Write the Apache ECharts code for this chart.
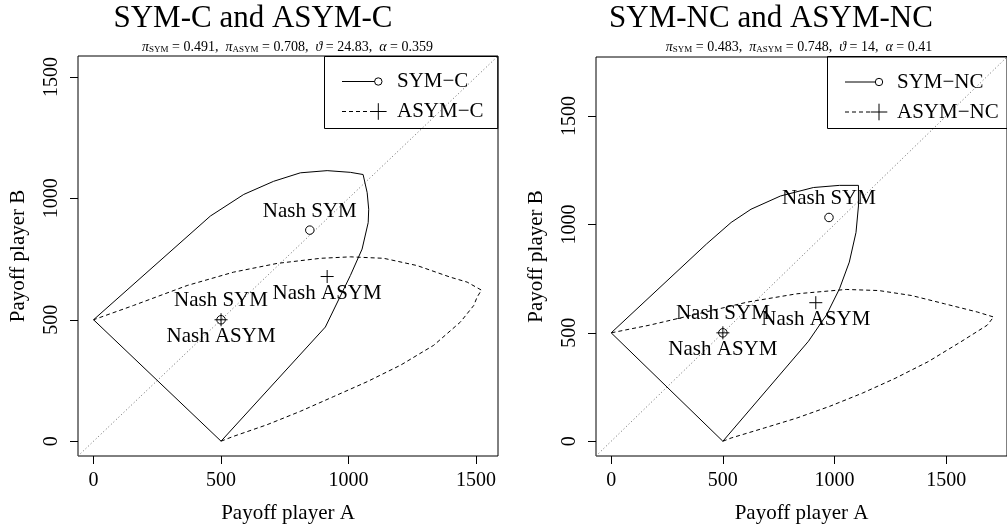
<!DOCTYPE html>
<html>
<head>
<meta charset="utf-8">
<script src="https://cdn.jsdelivr.net/npm/echarts@6/dist/echarts.min.js"></script>
<style>
html,body{margin:0;padding:0;background:#fff;}
#chart{width:1007px;height:529px;}
</style>
</head>
<body>
<div id="chart"></div>
<script>
// ---------- data ----------
const tickValues = [0, 500, 1000, 1500];
const limC = [-61, 1586];
const limNC = [-68, 1772];

const titles = ['SYM-C and ASYM-C', 'SYM-NC and ASYM-NC'];
const paramsC = ['0.491', '0.708', '24.83', '0.359'];
const paramsNC = ['0.483', '0.748', '14', '0.41'];
const legendC = ['SYM\u2212C', 'ASYM\u2212C'];
const legendNC = ['SYM\u2212NC', 'ASYM\u2212NC'];
const nashLabels = ['Nash SYM', 'Nash ASYM'];
const axisNames = ['Payoff player A', 'Payoff player B'];

const symC = [[0,500],[500,0],[909,470],[1007,682],[1053,791],[1077,900],[1079,955],[1073,1023],[1057,1098],
  [1007,1107],[916,1114],[811,1105],[706,1070],[589,1016],[458,927],[0,500]];
const asymC = [[500,0],[549,20],[681,68],[811,123],[942,184],[1073,245],[1204,313],[1334,395],[1439,491],[1491,559],
  [1504,593],[1521,622],[1465,655],[1400,675],[1269,723],[1138,753],[1007,759],[890,753],[720,732],[549,696],
  [367,641],[157,559],[0,500]];
const nashSymC = [[500,500],[848,869]];
const nashAsymC = [[500,500],[916,678]];

const symNC = [[0,500],[500,0],[883,461],[963,581],[1022,703],[1066,826],[1096,963],[1107,1085],[1107,1180],
  [1022,1180],[905,1170],[758,1131],[626,1070],[537,1009],[427,910],[0,500]];
const asymNC = [[500,0],[537,15],[685,61],[831,107],[978,161],[1125,222],[1271,290],[1419,367],[1566,459],[1683,535],
  [1712,573],[1639,596],[1492,634],[1345,672],[1198,695],[1052,700],[831,680],[611,642],[390,588],[170,535],[0,500]];
const nashSymNC = [[500,500],[975,1032]];
const nashAsymNC = [[500,500],[916,639]];

// ---------- styling ----------
const FF = '"Liberation Serif", "DejaVu Serif", serif';
const chart = echarts.init(document.getElementById('chart'));

function xAxisDef(idx, lim) {
  return {
    type: 'value', gridIndex: idx, min: lim[0], max: lim[1],
    name: axisNames[0], nameLocation: 'middle', nameGap: 47,
    nameTextStyle: {fontFamily: FF, fontSize: 21, color: '#000'},
    axisLine: {show: false, onZero: false},
    axisTick: {show: true, inside: false, length: 8, customValues: tickValues, lineStyle: {color: '#000', width: 1}},
    axisLabel: {show: true, customValues: tickValues, margin: 15, fontFamily: FF, fontSize: 20, color: '#000',
      formatter: function (v) { return String(v); }},
    splitLine: {show: false}
  };
}
function yAxisDef(idx, lim) {
  return {
    type: 'value', gridIndex: idx, min: lim[0], max: lim[1],
    name: axisNames[1], nameLocation: 'middle', nameGap: 49, nameRotate: 90,
    nameTextStyle: {fontFamily: FF, fontSize: 21, color: '#000'},
    axisLine: {show: false, onZero: false},
    axisTick: {show: true, inside: false, length: 8, customValues: tickValues, lineStyle: {color: '#000', width: 1}},
    axisLabel: {show: true, customValues: tickValues, rotate: 90, margin: 16, fontFamily: FF, fontSize: 20, color: '#000',
      formatter: function (v) { return String(v); }},
    splitLine: {show: false}
  };
}
function lineSeries(idx, data, type) {
  return {
    type: 'line', xAxisIndex: idx, yAxisIndex: idx, data: data, symbol: 'none', smooth: false,
    lineStyle: {color: '#000', width: 1, type: type}, clip: true, z: 3
  };
}
function diagSeries(idx, lim) {
  return {
    type: 'line', xAxisIndex: idx, yAxisIndex: idx, data: [[lim[0], lim[0]], [lim[1], lim[1]]], symbol: 'none',
    lineStyle: {color: '#666', width: 1, type: [1, 2.5]}, clip: true, z: 2
  };
}
function nashSeries(idx, data, kind) {
  const isSym = kind === 0;
  return {
    type: 'scatter', xAxisIndex: idx, yAxisIndex: idx, data: data,
    symbol: isSym ? 'circle' : 'path://M0,6L12,6M6,0L6,12',
    symbolSize: isSym ? 8.5 : 13,
    itemStyle: {color: 'rgba(255,255,255,0)', borderColor: '#000', borderWidth: 1, opacity: 1},
    label: {show: true, formatter: nashLabels[kind], position: 'inside', offset: [0, isSym ? -19 : 17],
      fontFamily: FF, fontSize: 21, color: '#000', opacity: 1, textBorderWidth: 0, textBorderColor: 'transparent'},
    emphasis: {disabled: true},
    z: 4
  };
}

function subtitleText(p) {
  return '{g|\u03c0}{s|SYM}{n| = ' + p[0] + ',  }{g|\u03c0}{s|ASYM}{n| = ' + p[1] +
    ',  }{g|\u03d1}{n| = ' + p[2] + ',  }{g|\u03b1}{n| = ' + p[3] + '}';
}
const subRich = {
  g: {fontFamily: FF, fontSize: 14, fontStyle: 'italic', lineHeight: 14, fill: '#000'},
  n: {fontFamily: FF, fontSize: 14, lineHeight: 14, fill: '#000'},
  s: {fontFamily: FF, fontSize: 9, lineHeight: 9, verticalAlign: 'bottom', fill: '#000'}
};

function legendGraphics(x0, w, xLine0, xMark, xText, y1, y2, labels) {
  return [
    {type: 'rect', shape: {x: x0, y: 56.5, width: w, height: 72}, style: {fill: 'none', stroke: '#000', lineWidth: 1}, z: 10},
    {type: 'line', shape: {x1: xLine0, y1: y1, x2: xMark - 3.7, y2: y1}, style: {stroke: '#000', lineWidth: 1}, z: 10},
    {type: 'circle', shape: {cx: xMark, cy: y1, r: 3.7}, style: {fill: 'none', stroke: '#000', lineWidth: 1}, z: 10},
    {type: 'line', shape: {x1: xLine0, y1: y2, x2: xMark - 8, y2: y2}, style: {stroke: '#000', lineWidth: 1, lineDash: [4, 3]}, z: 10},
    {type: 'line', shape: {x1: xMark - 8.3, y1: y2, x2: xMark + 8.3, y2: y2}, style: {stroke: '#000', lineWidth: 1}, z: 10},
    {type: 'line', shape: {x1: xMark, y1: y2 - 8.3, x2: xMark, y2: y2 + 8.3}, style: {stroke: '#000', lineWidth: 1}, z: 10},
    {type: 'text', style: {text: labels[0], x: xText, y: y1, font: '21px ' + FF, fill: '#000', textAlign: 'left', textVerticalAlign: 'middle'}, z: 10},
    {type: 'text', style: {text: labels[1], x: xText, y: y2, font: '21px ' + FF, fill: '#000', textAlign: 'left', textVerticalAlign: 'middle'}, z: 10}
  ];
}

const option = {
  animation: false,
  backgroundColor: '#fff',
  grid: [
    {left: 78, top: 56, width: 420, height: 402, show: true, borderColor: '#000', borderWidth: 1, backgroundColor: 'transparent', containLabel: false},
    {left: 596, top: 57, width: 417.5, height: 401, show: true, borderColor: '#000', borderWidth: 1, backgroundColor: 'transparent', containLabel: false}
  ],
  xAxis: [xAxisDef(0, limC), xAxisDef(1, limNC)],
  yAxis: [yAxisDef(0, limC), yAxisDef(1, limNC)],
  series: [
    diagSeries(0, limC),
    lineSeries(0, symC, 'solid'),
    lineSeries(0, asymC, [4, 3]),
    nashSeries(0, nashSymC, 0),
    nashSeries(0, nashAsymC, 1),
    diagSeries(1, limNC),
    lineSeries(1, symNC, 'solid'),
    lineSeries(1, asymNC, [4, 3]),
    nashSeries(1, nashSymNC, 0),
    nashSeries(1, nashAsymNC, 1)
  ],
  graphic: [
    {type: 'text', style: {text: titles[0], x: 253, y: 19, font: '31px ' + FF, fill: '#000', textAlign: 'center', textVerticalAlign: 'middle'}},
    {type: 'text', style: {text: titles[1], x: 771, y: 19, font: '31px ' + FF, fill: '#000', textAlign: 'center', textVerticalAlign: 'middle'}},
    {type: 'text', style: {text: subtitleText(paramsC), rich: subRich, x: 287.5, y: 47, fill: '#000', textAlign: 'center', textVerticalAlign: 'middle'}},
    {type: 'text', style: {text: subtitleText(paramsNC), rich: subRich, x: 799, y: 47, fill: '#000', textAlign: 'center', textVerticalAlign: 'middle'}}
  ].concat(
    legendGraphics(324.5, 173.3, 342, 378.3, 397, 81.5, 111.5, legendC),
    legendGraphics(827.5, 190, 845, 879, 897, 82, 112, legendNC)
  )
};
chart.setOption(option);
</script>
</body>
</html>
